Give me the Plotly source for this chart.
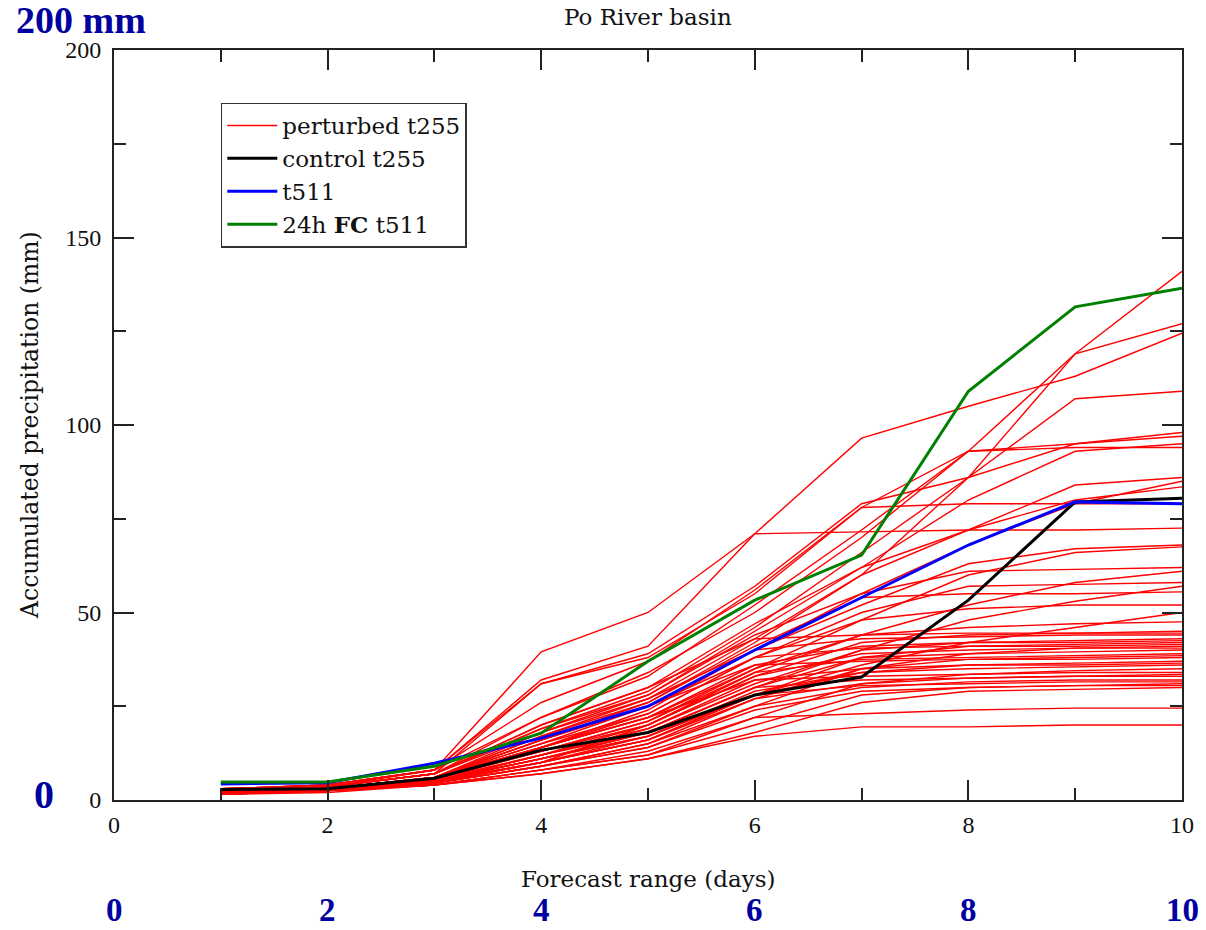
import plotly.graph_objects as go

days = [1, 2, 3, 4, 5, 6, 7, 8, 9, 10]

# perturbed t255 members (accumulated precipitation, mm)
perturbed = [
    [3.0, 4.0, 8.0, 22, 33, 52, 72, 93, 119, 141],
    [2.5, 3.5, 7.0, 19, 29, 46, 66, 86, 119, 127],
    [3.0, 4.0, 8.0, 39.5, 50, 71, 96.5, 105, 113, 124.5],
    [2.0, 3.0, 6.0, 16, 26, 42, 60, 86, 107, 109],
    [3.0, 4.0, 8.0, 26, 37, 56, 78, 93, 95, 98],
    [2.5, 3.5, 7.0, 31, 39, 57, 79, 86, 95, 97],
    [2.0, 3.0, 6.0, 18, 28, 45, 62, 80, 93, 95],
    [2.5, 3.5, 7.0, 22, 34, 50, 70, 93, 94, 94],
    [2.0, 3.0, 6.0, 17, 27, 43, 60, 72, 84, 86],
    [2.0, 3.0, 6.0, 14, 24, 40, 55, 68, 79, 85],
    [2.5, 3.5, 7.0, 20, 30, 47, 62, 72, 80, 83.5],
    [2.5, 3.5, 8.0, 31, 38, 55, 78, 79, 79, 79],
    [3.0, 4.0, 8.0, 32, 41, 71, 71.5, 72, 72, 72.5],
    [2.0, 3.0, 6.0, 15, 25, 40, 52, 63, 67, 68],
    [2.0, 3.0, 6.0, 13, 21, 35, 48, 60, 66, 67.5],
    [2.5, 3.5, 7.0, 19, 28, 44, 55, 61, 61.5, 62],
    [2.0, 3.0, 5.5, 12, 20, 34, 44, 52, 58, 61],
    [2.0, 3.0, 6.0, 16, 25, 38, 50, 57, 57.5, 58],
    [2.0, 3.0, 5.0, 11, 18, 30, 40, 48, 53, 57],
    [2.0, 3.0, 6.0, 17, 26, 41, 54, 55, 55, 55.5],
    [2.0, 3.0, 5.0, 10, 17, 28, 36, 42, 46, 50],
    [2.0, 3.0, 6.0, 14, 22, 35, 44, 46, 47, 47.5],
    [2.0, 3.0, 5.5, 13, 20, 33, 42, 44, 44.5, 45],
    [2.5, 3.5, 7.0, 18, 27, 40, 43, 43.5, 44, 44],
    [2.0, 3.0, 5.0, 12, 19, 31, 40, 42, 42.5, 43],
    [2.0, 3.0, 5.5, 14, 22, 36, 41, 42, 42, 42.5],
    [2.0, 2.5, 5.0, 10, 16, 28, 38, 41, 41.5, 42],
    [2.0, 3.0, 6.0, 15, 23, 38, 40.5, 41, 41, 41.5],
    [1.5, 2.5, 4.5, 9, 14, 25, 35, 39, 40.5, 41],
    [2.0, 3.0, 5.0, 11, 18, 30, 38, 39, 39.5, 40],
    [2.0, 3.0, 5.5, 13, 21, 34, 37.5, 38, 38.5, 39],
    [2.0, 2.5, 4.5, 9, 15, 27, 35, 37.5, 38, 38.5],
    [2.0, 3.0, 6.0, 16, 25, 36, 37, 37.5, 37.5, 38],
    [1.5, 2.5, 4.5, 10, 16, 28, 34, 36, 36.5, 37],
    [2.0, 3.0, 5.0, 12, 19, 32, 35, 36, 36, 36.5],
    [2.0, 3.0, 5.0, 11, 17, 29, 34, 35, 35.5, 36],
    [1.5, 2.5, 4.0, 8, 13, 22, 31, 33.5, 34.5, 35],
    [2.0, 3.0, 5.5, 14, 22, 32, 33, 33.5, 34, 34],
    [2.0, 2.5, 4.5, 10, 16, 27, 31, 32.5, 33, 33.5],
    [2.0, 3.0, 5.0, 12, 18, 30, 32, 32.5, 33, 33],
    [1.5, 2.5, 4.5, 9, 15, 25, 30, 31.5, 32, 32],
    [2.0, 3.0, 5.0, 11, 17, 28, 30.5, 31, 31.5, 31.5],
    [1.5, 2.5, 4.0, 8, 12, 20, 28, 30, 30.5, 31],
    [2.0, 2.5, 4.5, 9, 14, 24, 29, 30, 30.5, 30.5],
    [1.5, 2.5, 4.0, 7, 11, 18, 26, 29, 29.5, 30],
    [1.5, 2.5, 4.0, 8, 12, 22, 23, 24, 24.5, 24.5],
    [1.5, 2.0, 4.0, 7, 11, 17, 19.5, 19.5, 20, 20],
    [2.0, 3.0, 5.0, 10, 20, 33, 39, 40, 40.5, 40.5],
    [2.5, 3.5, 7.0, 20, 30, 43, 44, 44.5, 44.5, 44.5],
    [2.0, 3.0, 6.0, 14, 23, 38, 48, 51, 52, 52],
]
control_t255 = [2.8, 3.0, 5.8, 13.3, 18.0, 28.0, 32.8, 53.3, 79.5, 80.5]
t511 = [4.3, 4.6, 9.8, 16.5, 25.0, 40.0, 54.0, 68.0, 79.5, 79.0]
fc24h_t511 = [4.8, 4.8, 9.0, 17.8, 37.0, 53.3, 65.3, 109.0, 131.5, 136.5]

x_ticks = [0, 2, 4, 6, 8, 10]
y_ticks = [0, 50, 100, 150, 200]
blue_x_labels = ["0", "2", "4", "6", "8", "10"]

SERIF = "Liberation Serif"
WIDE_SERIF = "DejaVu Serif"
NAVY = "#0000A0"

fig = go.Figure()
for i, member in enumerate(perturbed):
    fig.add_trace(go.Scatter(
        x=days, y=member, mode="lines", name="perturbed t255",
        legendgroup="pert", showlegend=(i == 0),
        line=dict(color="#ff0000", width=1.4), hoverinfo="skip"))
fig.add_trace(go.Scatter(x=days, y=control_t255, mode="lines", name="control t255",
                         line=dict(color="black", width=3)))
fig.add_trace(go.Scatter(x=days, y=t511, mode="lines", name="t511",
                         line=dict(color="#0000ff", width=3)))
fig.add_trace(go.Scatter(x=days, y=fc24h_t511, mode="lines", name="24h <b>FC</b> t511",
                         line=dict(color="#008000", width=3)))

axis_common = dict(
    showline=True, linewidth=2, linecolor="#222", mirror="ticks",
    ticks="inside", ticklen=20, tickwidth=1.5, tickcolor="#222",
    showgrid=False, zeroline=False,
    tickfont=dict(family=SERIF, size=24, color="#111"),
)
fig.update_xaxes(range=[0, 10], tickvals=x_ticks,
                 minor=dict(ticks="inside", ticklen=12, dtick=1, tick0=0, tickcolor="#222", tickwidth=1.5),
                 ticklabelstandoff=2, **axis_common)
fig.update_yaxes(range=[0, 200], tickvals=y_ticks,
                 minor=dict(ticks="inside", ticklen=12, dtick=25, tick0=0, tickcolor="#222", tickwidth=1.5),
                 ticklabelstandoff=6, **axis_common)

annotations = [
    dict(text="Po River basin", xref="paper", yref="paper", x=0.5, y=1, yshift=33,
         showarrow=False, font=dict(family=WIDE_SERIF, size=23, color="#111"), yanchor="middle"),
    dict(text="Forecast range (days)", xref="paper", yref="paper", x=0.5, y=0, yshift=-79,
         showarrow=False, font=dict(family=WIDE_SERIF, size=23, color="#111"), yanchor="middle"),
    dict(text="Accumulated precipitation (mm)", xref="paper", yref="paper", x=0, xshift=-84, y=0.5,
         yshift=0, textangle=-90, showarrow=False,
         font=dict(family=WIDE_SERIF, size=23.5, color="#111"), xanchor="center"),
    dict(text="<b>200 mm</b>", xref="paper", yref="paper", x=0, xshift=-100, y=1, yshift=30,
         xanchor="left", yanchor="middle", showarrow=False,
         font=dict(family=SERIF, size=38, color=NAVY)),
    dict(text="<b>0</b>", xref="paper", yref="y", x=0, xshift=-70, y=0, yshift=6,
         xanchor="center", yanchor="middle", showarrow=False,
         font=dict(family=SERIF, size=40, color=NAVY)),
]
for xv, lab in zip(x_ticks, blue_x_labels):
    annotations.append(dict(text="<b>%s</b>" % lab, xref="x", yref="paper", x=xv, y=0, yshift=-110,
                            xanchor="center", yanchor="middle", showarrow=False,
                            font=dict(family=SERIF, size=33, color=NAVY)))

fig.update_layout(
    width=1206, height=930,
    margin=dict(l=114, r=20, t=50, b=130),
    plot_bgcolor="white", paper_bgcolor="white",
    showlegend=True,
    legend=dict(x=0.1, y=0.93, xanchor="left", yanchor="top",
                bgcolor="white", bordercolor="#333", borderwidth=1.5,
                font=dict(family=WIDE_SERIF, size=23, color="#111"),
                itemwidth=50, tracegroupgap=0),
    annotations=annotations,
)

fig.write_html("out.html")
